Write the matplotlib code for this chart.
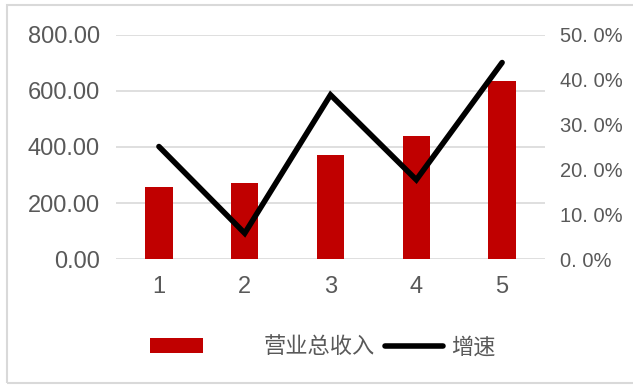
import matplotlib
matplotlib.use("Agg")
import matplotlib.pyplot as plt
from matplotlib.patches import Patch, Rectangle
from matplotlib.lines import Line2D
from matplotlib.ticker import FuncFormatter

plt.rcParams['font.family'] = ['Liberation Sans', 'Noto Sans CJK SC', 'DejaVu Sans']

# 数据
periods = [1, 2, 3, 4, 5]
revenue = [259, 272, 373, 439, 634]          # 营业总收入
growth = [25.1, 5.8, 36.6, 17.7, 43.8]       # 增速 (%)

bar_color = '#C00000'
text_color = '#595959'
grid_color = '#D9D9D9'

fig = plt.figure(figsize=(6.33, 3.85), dpi=100)
ax = fig.add_axes([0.1833, 0.3265, 0.6777, 0.5834])
ax2 = ax.twinx()

ax.bar(periods, revenue, width=0.32, color=bar_color, zorder=2)
ax.set_xlim(0.5, 5.5)
ax.set_ylim(0, 800)
ax.set_yticks([0, 200, 400, 600, 800])
ax.yaxis.set_major_formatter(FuncFormatter(lambda v, p: f'{v:.2f}'))
ax.set_xticks(periods)
ax.grid(axis='y', color=grid_color, linewidth=1.2, zorder=0)
ax.set_axisbelow(True)

ax2.plot(periods, growth, color='black', linewidth=4, solid_capstyle='round',
         solid_joinstyle='miter', zorder=3)
ax2.set_ylim(0, 50)
ax2.set_yticks([0, 10, 20, 30, 40, 50])
ax2.yaxis.set_major_formatter(FuncFormatter(lambda v, p: f'{v:.0f}. 0%'))

for a in (ax, ax2):
    for s in a.spines.values():
        s.set_visible(False)
    a.tick_params(length=0, labelcolor=text_color)
ax.tick_params(axis='y', pad=11.5, labelsize=17)
ax.tick_params(axis='x', pad=12, labelsize=17)
ax2.tick_params(axis='y', pad=11, labelsize=14.5)

# 图例
h1 = Patch(facecolor=bar_color, edgecolor='none')
h2 = Line2D([], [], color='black', linewidth=4, solid_capstyle='round')
leg1 = fig.legend([h1], ['营业总收入'], loc='center left', bbox_to_anchor=(0.237, 0.099),
                  frameon=False, borderpad=0, borderaxespad=0, handlelength=2.4,
                  handleheight=0.7, handletextpad=2.7,
                  prop={'family': ['Noto Sans CJK SC'], 'size': 16})
for t in leg1.get_texts():
    t.set_color(text_color)
leg2 = fig.legend([h2], ['增速'], loc='center left', bbox_to_anchor=(0.608, 0.099),
                  frameon=False, borderpad=0, borderaxespad=0, handlelength=2.6,
                  handletextpad=0.4, prop={'family': ['Noto Sans CJK SC'], 'size': 16})
for t in leg2.get_texts():
    t.set_color(text_color)

# 外框
fig.patches.append(Rectangle((0.011, 0.005), 1.1, 0.982, transform=fig.transFigure,
                             fill=False, edgecolor='#D9D9D9', linewidth=1.5))

fig.savefig('out.png', dpi=100)
